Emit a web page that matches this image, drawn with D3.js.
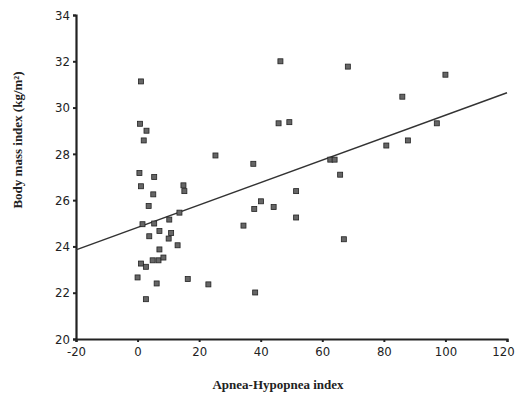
<!DOCTYPE html>
<html>
<head>
<meta charset="utf-8">
<script src="https://cdn.jsdelivr.net/npm/d3@7"></script>
<style>
  body { margin: 0; background: #fff; }
  text { fill: #222; }
</style>
</head>
<body>
<svg width="517" height="399"></svg>
<script>
// apnea-hypopnea index (x) vs body mass index (y)
var ahi = [1.1, 0.8, 2.9, 2.0, 25.3, 37.6, 0.6, 5.4, 1.1, 14.9, 15.2, 5.1, 51.5, 3.6, 40.1,
  37.9, 44.2, 13.6, 51.5, 1.6, 5.4, 10.3, 34.4, 3.8, 7.1, 10.9, 10.1, 13.0, 7.1, 1.1,
  2.7, 4.9, 6.8, 8.4, 0.0, 6.2, 16.3, 23.0, 38.2, 2.7, 46.4, 45.8, 49.3, 68.3, 100.0,
  86.0, 97.2, 80.8, 87.8, 62.6, 64.0, 65.8, 67.0];
var bmi = [31.13, 29.3, 29.0, 28.58, 27.93, 27.57, 27.17, 27.0, 26.6, 26.64, 26.39, 26.25, 26.39, 25.75, 25.95,
  25.62, 25.7, 25.46, 25.25, 24.96, 24.99, 25.16, 24.9, 24.44, 24.67, 24.58, 24.34, 24.05, 23.87, 23.26,
  23.12, 23.4, 23.4, 23.52, 22.66, 22.4, 22.59, 22.36, 22.01, 21.72, 32.0, 29.32, 29.37, 31.77, 31.42,
  30.47, 29.32, 28.36, 28.58, 27.75, 27.75, 27.1, 24.31];
// regression line end points
var fitX = [-20, 120];
var fitY = [23.85, 30.64];
var xTicks = [-20, 0, 20, 40, 60, 80, 100, 120];
var yTicks = [20, 22, 24, 26, 28, 30, 32, 34];

var svg = d3.select("svg");
var x = d3.scaleLinear().domain([-20, 120]).range([76, 507]);
var y = d3.scaleLinear().domain([20, 34]).range([339, 15]);

var xAxis = svg.append("g")
  .attr("transform", "translate(0,339)")
  .call(d3.axisBottom(x).tickValues(xTicks).tickSize(3).tickPadding(5)
    .tickFormat(function(d){ return String(d); }));
var yAxis = svg.append("g")
  .attr("transform", "translate(76,0)")
  .call(d3.axisLeft(y).tickValues(yTicks).tickSize(3).tickPadding(3));

[xAxis, yAxis].forEach(function(a){
  a.select(".domain").attr("stroke", "#222").attr("stroke-width", 2.2);
  a.selectAll(".tick line").attr("stroke", "#222").attr("stroke-width", 2);
  a.selectAll("text").attr("font-family", "DejaVu Sans Condensed, sans-serif")
    .attr("font-size", 13).attr("fill", "#333");
});
// keep the last x label inside the window
xAxis.selectAll(".tick text").filter(function(d){ return d === 120; }).attr("dx", -4);

var line = d3.line()
  .x(function(d){ return x(d); })
  .y(function(d, i){ return y(fitY[i]); });
svg.append("path")
  .datum(fitX)
  .attr("d", line)
  .attr("fill", "none")
  .attr("stroke", "#333")
  .attr("stroke-width", 1.5);

svg.selectAll("rect.pt")
  .data(ahi)
  .enter().append("rect")
  .attr("class", "pt")
  .attr("x", function(d){ return x(d) - 2.5; })
  .attr("y", function(d, i){ return y(bmi[i]) - 2.5; })
  .attr("width", 5)
  .attr("height", 5)
  .attr("fill", "#666")
  .attr("stroke", "#222")
  .attr("stroke-width", 0.8);

svg.append("text")
  .attr("x", 278).attr("y", 389)
  .attr("text-anchor", "middle")
  .attr("font-family", "Liberation Serif, serif")
  .attr("font-weight", "bold")
  .attr("font-size", 13)
  .text("Apnea-Hypopnea index");

svg.append("text")
  .attr("transform", "translate(22,140) rotate(-90)")
  .attr("text-anchor", "middle")
  .attr("font-family", "Liberation Serif, serif")
  .attr("font-weight", "bold")
  .attr("font-size", 13)
  .text("Body mass index (kg/m²)");
</script>
</body>
</html>
